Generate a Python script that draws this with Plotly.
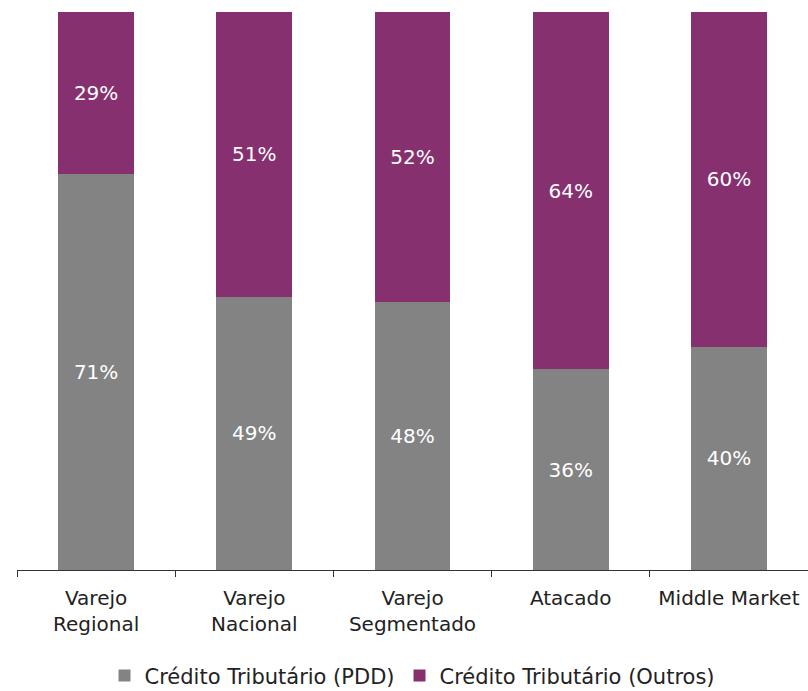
import plotly.graph_objects as go

categories = ["Varejo<br>Regional", "Varejo<br>Nacional", "Varejo<br>Segmentado", "Atacado", "Middle Market"]
pdd = [71, 49, 48, 36, 40]
outros = [29, 51, 52, 64, 60]
series_names = ["Crédito Tributário (PDD)", "Crédito Tributário (Outros)"]

FONT = "DejaVu Sans"

fig = go.Figure()
fig.add_trace(go.Bar(
    x=categories, y=pdd, name=series_names[0],
    marker=dict(color="#838383", line=dict(width=0)),
    text=[f"{v}%" for v in pdd], textposition="inside", insidetextanchor="middle",
    textangle=0, constraintext="none",
    textfont=dict(family=FONT, size=20, color="white"),
))
fig.add_trace(go.Bar(
    x=categories, y=outros, name=series_names[1],
    marker=dict(color="#86306f", line=dict(width=0)),
    text=[f"{v}%" for v in outros], textposition="inside", insidetextanchor="middle",
    textangle=0, constraintext="none",
    textfont=dict(family=FONT, size=20, color="white"),
))

fig.update_layout(
    barmode="stack", bargap=0.52,
    width=808, height=691,
    margin=dict(l=17, r=0, t=12, b=121, autoexpand=False),
    plot_bgcolor="white", paper_bgcolor="white",
    font=dict(family=FONT, size=20, color="#222222"),
    showlegend=True,
    legend=dict(orientation="h", x=0.5, xanchor="center",
                yref="container", y=0.022, yanchor="middle",
                font=dict(family=FONT, size=21, color="#222222"),
                itemwidth=30, traceorder="normal"),
    uniformtext=dict(mode=False),
)
fig.update_xaxes(showline=True, linecolor="#333333", linewidth=1,
                 ticks="outside", ticklen=6, tickcolor="#333333", tickson="boundaries",
                 ticklabelstandoff=10,
                 tickfont=dict(family=FONT, size=20, color="#222222"))
fig.update_yaxes(visible=False, range=[0, 100], showgrid=False)

fig.write_html("out.html", config={"displayModeBar": False},
               post_script="document.body.style.margin='0';document.body.style.overflow='hidden';")
